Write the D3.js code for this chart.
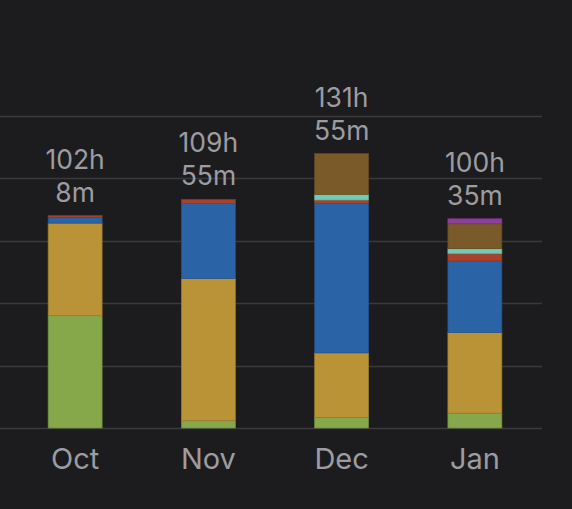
<!DOCTYPE html>
<html>
<head>
<meta charset="utf-8">
<script src="https://cdn.jsdelivr.net/npm/d3@7"></script>
<style>
  html, body { margin: 0; padding: 0; background: #1c1c1e; }
  svg { display: block; }
</style>
</head>
<body>
<div id="chart"></div>
<script>
// months on the x axis
const months = ["Oct", "Nov", "Dec", "Jan"];

// labels above each bar
const totalLabels = [["102h", "8m"], ["109h", "55m"], ["131h", "55m"], ["100h", "35m"]];

// stacked categories, bottom to top
const categories = ["green", "gold", "blue", "red", "teal", "brown", "purple"];
const categoryColors = ["#86a74a", "#b99336", "#2a63a6", "#a8422f", "#72cbb3", "#7a5a28", "#8e3e9c"];

// hours per category, one value per month
const greenHours  = [54.0,  3.5,  5.1,  7.1];
const goldHours   = [44.5, 68.4, 31.0, 38.8];
const blueHours   = [ 2.8, 36.0, 71.8, 34.4];
const redHours    = [ 0.8,  2.0,  1.7,  3.5];
const tealHours   = [ 0.0,  0.0,  2.7,  2.4];
const brownHours  = [ 0.0,  0.0, 19.6, 12.0];
const purpleHours = [ 0.0,  0.0,  0.0,  2.4];

// y gridlines (hours)
const gridTicks = [0, 30, 60, 90, 120, 150];

const seriesHours = [greenHours, goldHours, blueHours, redHours, tealHours, brownHours, purpleHours];

const width = 572;
const height = 509;

const rows = months.map((m, i) => {
  const row = { month: m };
  categories.forEach((c, k) => { row[c] = seriesHours[k][i]; });
  return row;
});

const stacked = d3.stack().keys(categories)(rows);

const svg = d3.select("#chart")
  .append("svg")
  .attr("width", width)
  .attr("height", height);

const x = d3.scaleBand()
  .domain(months)
  .range([8.5, 541.5])
  .paddingInner(0.595)
  .paddingOuter(0.2975);

const y = d3.scaleLinear()
  .domain([0, 150])
  .range([428, 116]);

const color = d3.scaleOrdinal()
  .domain(categories)
  .range(categoryColors);

// ----------------------------
// GRID
// ----------------------------
svg.append("g")
  .selectAll("line")
  .data(gridTicks)
  .join("line")
  .attr("x1", 0)
  .attr("x2", 542)
  .attr("y1", d => Math.round(y(d)) + 0.5)
  .attr("y2", d => Math.round(y(d)) + 0.5)
  .attr("stroke", "#3a3a3c")
  .attr("stroke-width", 1.5);

// ----------------------------
// BARS
// ----------------------------
svg.append("g")
  .selectAll("g")
  .data(stacked)
  .join("g")
  .attr("fill", d => color(d.key))
  .attr("stroke", d => d3.color(color(d.key)).darker(0.5))
  .attr("stroke-width", 0.7)
  .selectAll("rect")
  .data(d => d.filter(s => s[1] - s[0] > 0))
  .join("rect")
  .attr("x", d => x(d.data.month))
  .attr("width", x.bandwidth())
  .attr("y", d => y(d[1]))
  .attr("height", d => y(d[0]) - y(d[1]));

// ----------------------------
// TOTAL LABELS
// ----------------------------
const totals = rows.map(r => d3.sum(categories, c => r[c]));

const labels = svg.append("g")
  .attr("font-family", "Inter, 'Noto Sans', sans-serif")
  .attr("font-size", 26.5)
  .attr("fill", "#9c9ca1")
  .attr("text-anchor", "middle");

months.forEach((m, i) => {
  const cx = x(m) + x.bandwidth() / 2;
  const top = y(totals[i]);
  labels.append("text")
    .attr("x", cx)
    .attr("y", top - 47)
    .text(totalLabels[i][0]);
  labels.append("text")
    .attr("x", cx)
    .attr("y", top - 14)
    .text(totalLabels[i][1]);
});

// ----------------------------
// X AXIS LABELS
// ----------------------------
svg.append("g")
  .attr("font-family", "Inter, 'Noto Sans', sans-serif")
  .attr("font-size", 29)
  .attr("fill", "#9c9ca1")
  .attr("text-anchor", "middle")
  .selectAll("text")
  .data(months)
  .join("text")
  .attr("x", d => x(d) + x.bandwidth() / 2)
  .attr("y", 469)
  .text(d => d);
</script>
</body>
</html>
